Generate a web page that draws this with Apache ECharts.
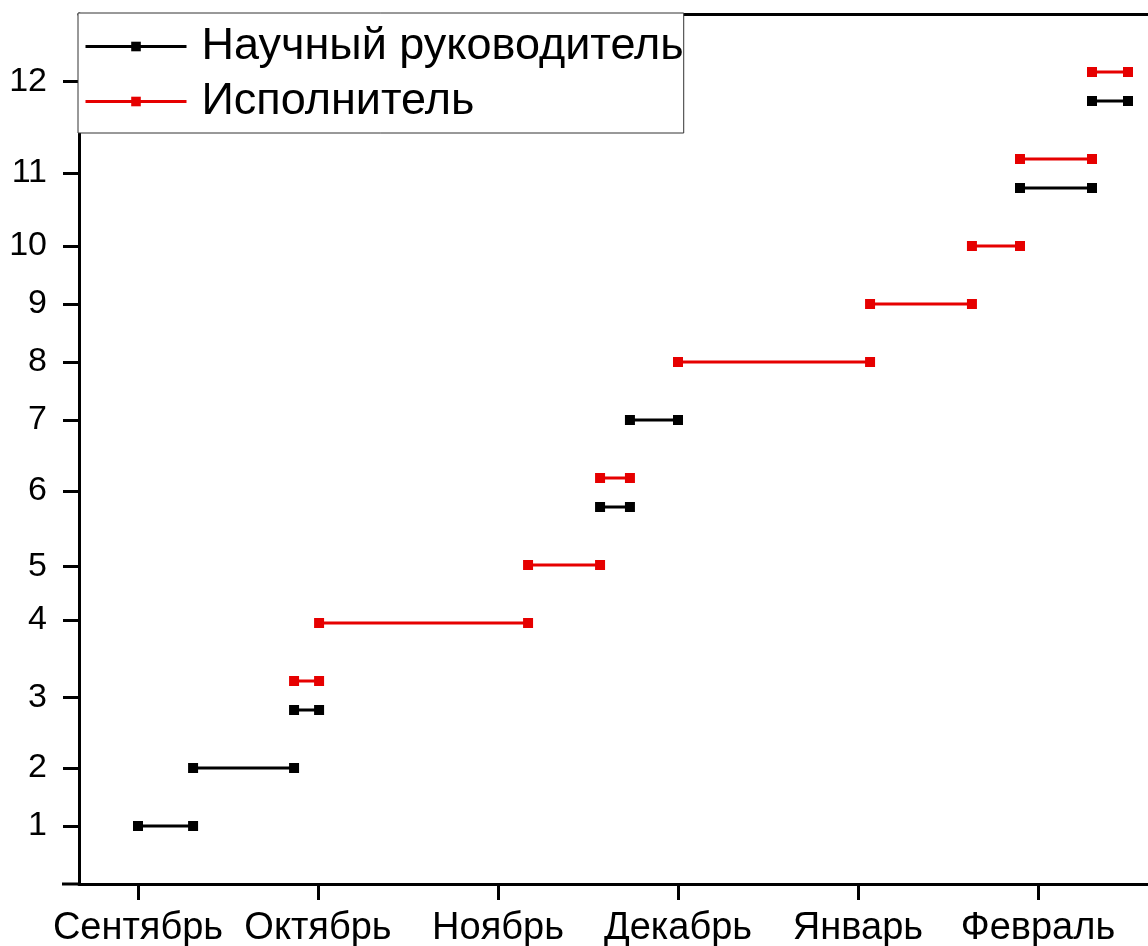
<!DOCTYPE html>
<html>
<head>
<meta charset="utf-8">
<script src="https://cdn.jsdelivr.net/npm/echarts@6/dist/echarts.min.js"></script>
<style>
html,body{margin:0;padding:0;background:#fff;}
#chart{width:1148px;height:946px;}
</style>
</head>
<body>
<div id="chart"></div>
<script>
// X axis: months (value 0 = start of September, 1 unit = one month)
const months = ['Сентябрь', 'Октябрь', 'Ноябрь', 'Декабрь', 'Январь', 'Февраль'];
const monthPos = [0, 1, 2, 3, 4, 5];

// Y axis: task numbers and where their labels sit on the row scale
const yTickLabels = ['1', '2', '3', '4', '5', '6', '7', '8', '9', '10', '11', '12'];
const yTickPos = [1, 2, 3.22, 4.55, 5.48, 6.78, 8, 9, 10, 11, 12.26, 13.84];

// Series: Научный руководитель (black)
const supName = 'Научный руководитель';
const supRow = [1, 2, 3, 6.5, 8, 12, 13.5];
const supStart = [0, 0.306, 0.867, 2.567, 2.733, 4.9, 5.3];
const supEnd = [0.306, 0.867, 1.006, 2.733, 3.0, 5.3, 5.5];

// Series: Исполнитель (red)
const exeName = 'Исполнитель';
const exeRow = [3.5, 4.5, 5.5, 7, 9, 10, 11, 12.5, 14];
const exeStart = [0.867, 1.006, 2.167, 2.567, 3.0, 4.067, 4.633, 4.9, 5.3];
const exeEnd = [1.006, 2.167, 2.567, 2.733, 4.067, 4.633, 4.9, 5.3, 5.5];

function segments(rows, starts, ends) {
  const out = [];
  for (let i = 0; i < rows.length; i++) {
    out.push([starts[i], rows[i]]);
    out.push([ends[i], rows[i]]);
    out.push([ends[i], '-']);
  }
  return out;
}

const FONT = '"Liberation Sans", Arial, sans-serif';
const BLACK = '#000000';
const RED = '#e60000';

const chart = echarts.init(document.getElementById('chart'), null, {renderer: 'canvas'});

function lineSeries(name, color, data) {
  return {
    name: name,
    type: 'line',
    data: data,
    connectNulls: false,
    symbol: 'rect',
    symbolSize: 10,
    showSymbol: true,
    showAllSymbol: true,
    color: color,
    lineStyle: {color: color, width: 3},
    itemStyle: {color: color},
    emphasis: {disabled: true},
    z: 3
  };
}

const option = {
  animation: false,
  backgroundColor: '#ffffff',
  textStyle: {fontFamily: FONT},
  grid: {left: 79, right: -10, top: 14, bottom: 62, containLabel: false, outerBoundsMode: 'none'},
  legend: {
    left: 78,
    top: 13,
    orient: 'vertical',
    data: [supName, exeName],
    selectedMode: false,
    backgroundColor: '#ffffff',
    borderColor: '#333333',
    borderWidth: 1,
    borderRadius: 0,
    padding: [8, 0, 6, 6],
    itemGap: 4,
    itemWidth: 101,
    itemHeight: 12,
    lineStyle: {width: 3},
    textStyle: {
      fontFamily: FONT,
      fontSize: 45,
      color: '#000',
      lineHeight: 51,
      padding: [0, 0, 0, 10]
    }
  },
  xAxis: [{
    type: 'value',
    min: (79 - 138) / 180,
    max: (1158 - 138) / 180,
    position: 'bottom',
    splitLine: {show: false},
    axisLine: {show: true, onZero: false, lineStyle: {color: '#000', width: 3}},
    axisTick: {show: true, length: 16, lineStyle: {color: '#000', width: 3}, customValues: monthPos},
    axisLabel: {
      show: true,
      customValues: monthPos,
      fontFamily: FONT,
      fontSize: 38,
      color: '#000',
      margin: 26,
      formatter: function (v) {
        const i = monthPos.indexOf(Math.round(v));
        return i >= 0 ? months[i] : '';
      }
    }
  }, {
    type: 'value',
    min: (79 - 138) / 180,
    max: (1158 - 138) / 180,
    position: 'top',
    splitLine: {show: false},
    axisLine: {show: true, onZero: false, lineStyle: {color: '#000', width: 3}},
    axisTick: {show: false},
    axisLabel: {show: false}
  }],
  yAxis: {
    type: 'value',
    min: 0,
    max: 15,
    position: 'left',
    splitLine: {show: false},
    axisLine: {show: true, onZero: false, lineStyle: {color: '#000', width: 3}},
    axisTick: {show: true, length: 16, lineStyle: {color: '#000', width: 3}, customValues: yTickPos},
    axisLabel: {
      show: true,
      customValues: yTickPos,
      fontFamily: FONT,
      fontSize: 34,
      color: '#000',
      margin: 32,
      formatter: function (v) {
        let best = -1, bd = 1e9;
        for (let i = 0; i < yTickPos.length; i++) {
          const d = Math.abs(yTickPos[i] - v);
          if (d < bd) { bd = d; best = i; }
        }
        return bd < 0.01 ? yTickLabels[best] : '';
      }
    }
  },
  graphic: [{
    type: 'line',
    shape: {x1: 62, y1: 884, x2: 80, y2: 884},
    style: {stroke: '#000', lineWidth: 3},
    z: 2
  }],
  series: [
    lineSeries(supName, BLACK, segments(supRow, supStart, supEnd)),
    lineSeries(exeName, RED, segments(exeRow, exeStart, exeEnd))
  ]
};

chart.setOption(option);
</script>
</body>
</html>
